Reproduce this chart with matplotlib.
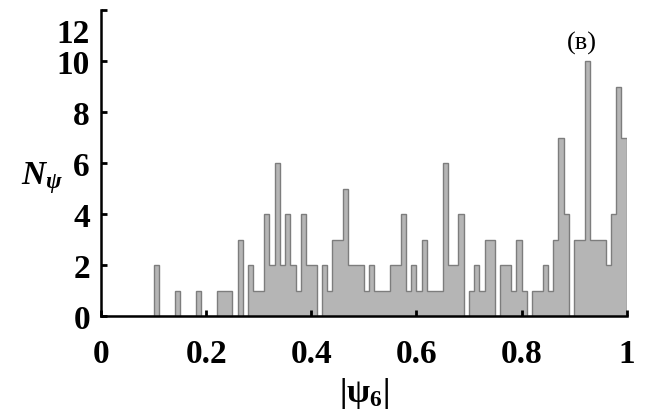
"""Histogram of |psi_6| values, panel (в)."""

import numpy as np
import matplotlib

matplotlib.use("Agg")
import matplotlib.pyplot as plt
from matplotlib.transforms import ScaledTranslation

plt.rcParams["font.family"] = ["Liberation Serif", "DejaVu Serif"]
plt.rcParams["mathtext.fontset"] = "custom"
plt.rcParams["mathtext.rm"] = "Liberation Serif:bold"
plt.rcParams["mathtext.it"] = "Liberation Serif:italic:bold"
plt.rcParams["mathtext.bf"] = "Liberation Serif:bold"

# counts per bin of width 0.01, from 0.00 to 1.00
COUNTS = [
    0, 0, 0, 0, 0, 0, 0, 0, 0, 0,   # 0.00-0.09
    2, 0, 0, 0, 1, 0, 0, 0, 1, 0,   # 0.10-0.19
    0, 0, 1, 1, 1, 0, 3, 0, 2, 1,   # 0.20-0.29
    1, 4, 2, 6, 2, 4, 2, 1, 4, 2,   # 0.30-0.39
    2, 0, 2, 1, 3, 3, 5, 2, 2, 2,   # 0.40-0.49
    1, 2, 1, 1, 1, 2, 2, 4, 1, 2,   # 0.50-0.59
    1, 3, 1, 1, 1, 6, 2, 2, 4, 0,   # 0.60-0.69
    1, 2, 1, 3, 3, 0, 2, 2, 1, 3,   # 0.70-0.79
    1, 0, 1, 1, 2, 1, 3, 7, 4, 0,   # 0.80-0.89
    3, 3, 10, 3, 3, 3, 2, 4, 9, 7,  # 0.90-0.99
]
N_BINS = len(COUNTS)
X_TICKS = [0, 0.2, 0.4, 0.6, 0.8, 1]
X_TICKLABELS = ["0", "0.2", "0.4", "0.6", "0.8", "1"]
Y_TICKS = [0, 2, 4, 6, 8, 10, 12]
PANEL_LABEL = "(в)"

edges = np.linspace(0, 1, N_BINS + 1)

fig = plt.figure(figsize=(6.48, 4.14), dpi=100)
ax = fig.add_axes([0.156, 0.234, 0.811, 0.739])

ax.stairs(COUNTS, edges, fill=True, facecolor="#b5b5b5",
          edgecolor="#7d7d7d", linewidth=1.0)

ax.set_xlim(0, 1)
ax.set_ylim(0, 12)
ax.set_xticks(X_TICKS)
ax.set_xticklabels(X_TICKLABELS)
ax.set_yticks(Y_TICKS)
ax.set_yticklabels([str(v) for v in Y_TICKS])

ax.spines[["top", "right"]].set_visible(False)
for s in ("left", "bottom"):
    ax.spines[s].set_linewidth(1.8)
ax.tick_params(axis="both", direction="in", length=4, width=2,
               labelsize=24)
ax.tick_params(axis="x", pad=16)
ax.tick_params(axis="y", pad=8)
for lab in ax.get_xticklabels() + ax.get_yticklabels():
    lab.set_fontweight("bold")

# the "12" label sits a bit below its tick in the original
lab12 = ax.yaxis.get_major_ticks()[-1].label1
lab12.set_transform(lab12.get_transform()
                    + ScaledTranslation(0, -0.20, fig.dpi_scale_trans))

ax.set_xlabel(r"$|\mathrm{ψ}_{\mathrm{6}}|$", fontsize=24, labelpad=4)
fig.text(0.065, 0.57, r"$N_{ψ}$", fontsize=24, ha="center", va="center")
ax.text(0.915, 10.75, PANEL_LABEL, fontsize=19, ha="center", va="center")

fig.savefig("out.png", dpi=100)
